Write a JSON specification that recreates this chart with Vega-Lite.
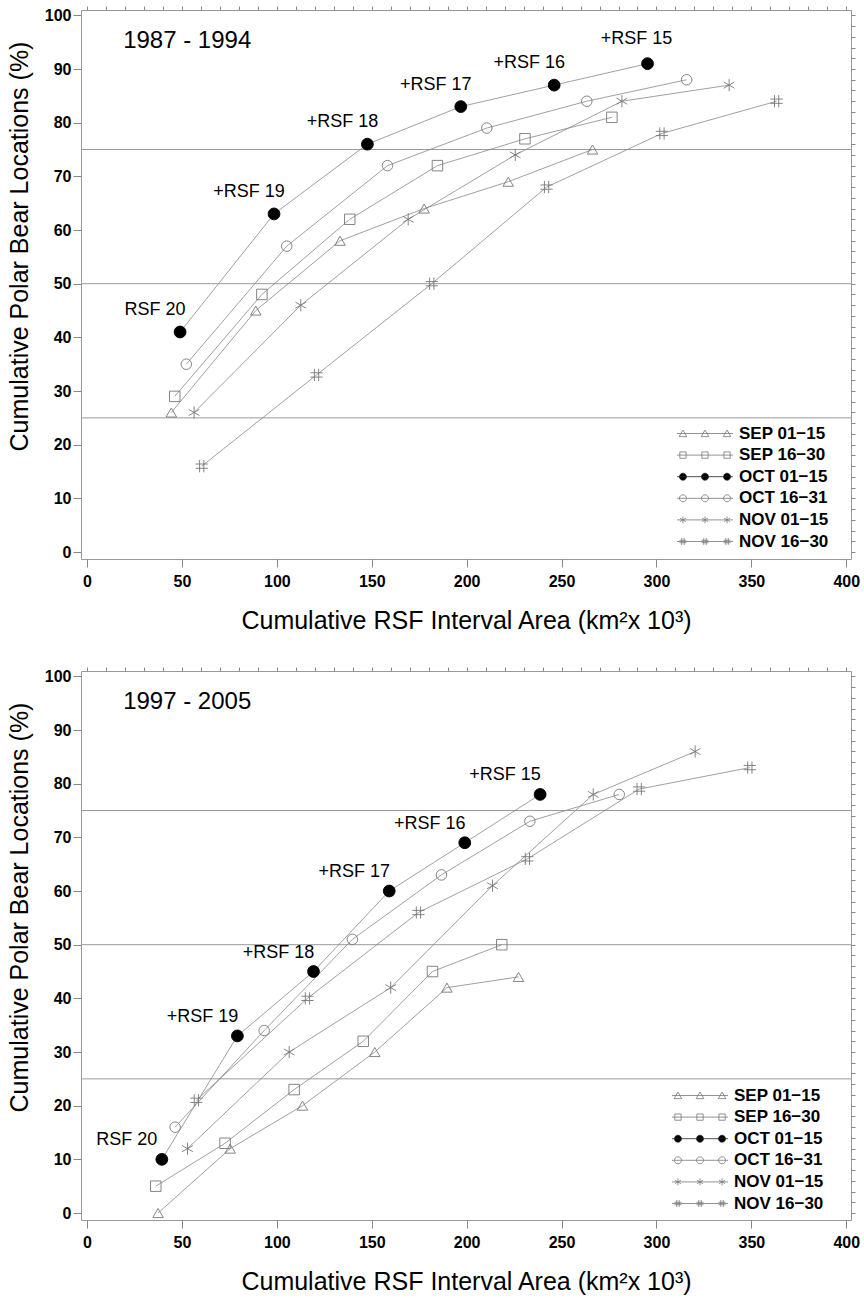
{
  "$schema": "https://vega.github.io/schema/vega-lite/v6.json",
  "padding": {"left": 6, "top": 5, "right": 5, "bottom": 5},
  "spacing": 32,
  "config": {
    "font": "Liberation Sans",
    "view": {"stroke": "#999", "strokeWidth": 1},
    "axis": {"grid": false, "domain": false, "tickColor": "#888", "labelColor": "black", "titleColor": "black", "labelFlush": false},
    "legend": {"title": null, "padding": 0, "labelFontSize": 17, "labelFontWeight": "bold", "labelColor": "black", "symbolSize": 49, "symbolStrokeWidth": 0.8, "symbolOpacity": 1, "labelOffset": 50, "rowPadding": 3.6}
  },
  "datasets": {
    "pts": [
      {"p": "A", "s": "SEP 01−15", "x": 44.4, "y": 26}, {"p": "A", "s": "SEP 01−15", "x": 88.9, "y": 45}, {"p": "A", "s": "SEP 01−15", "x": 133.3, "y": 58}, {"p": "A", "s": "SEP 01−15", "x": 177.6, "y": 64}, {"p": "A", "s": "SEP 01−15", "x": 221.9, "y": 69}, {"p": "A", "s": "SEP 01−15", "x": 266.3, "y": 75},
      {"p": "A", "s": "SEP 16−30", "x": 46.2, "y": 29}, {"p": "A", "s": "SEP 16−30", "x": 92.1, "y": 48}, {"p": "A", "s": "SEP 16−30", "x": 138.4, "y": 62}, {"p": "A", "s": "SEP 16−30", "x": 184.6, "y": 72}, {"p": "A", "s": "SEP 16−30", "x": 230.7, "y": 77}, {"p": "A", "s": "SEP 16−30", "x": 276.5, "y": 81},
      {"p": "A", "s": "OCT 01−15", "x": 49, "y": 41, "label": "RSF 20"}, {"p": "A", "s": "OCT 01−15", "x": 98.5, "y": 63, "label": "+RSF 19"}, {"p": "A", "s": "OCT 01−15", "x": 147.7, "y": 76, "label": "+RSF 18"}, {"p": "A", "s": "OCT 01−15", "x": 196.9, "y": 83, "label": "+RSF 17"}, {"p": "A", "s": "OCT 01−15", "x": 246.1, "y": 87, "label": "+RSF 16"}, {"p": "A", "s": "OCT 01−15", "x": 295.3, "y": 91, "label": "+RSF 15"},
      {"p": "A", "s": "OCT 16−31", "x": 52.3, "y": 35}, {"p": "A", "s": "OCT 16−31", "x": 105.2, "y": 57}, {"p": "A", "s": "OCT 16−31", "x": 158.3, "y": 72}, {"p": "A", "s": "OCT 16−31", "x": 210.6, "y": 79}, {"p": "A", "s": "OCT 16−31", "x": 263.3, "y": 84}, {"p": "A", "s": "OCT 16−31", "x": 315.9, "y": 88},
      {"p": "A", "s": "NOV 01−15", "x": 56.4, "y": 26}, {"p": "A", "s": "NOV 01−15", "x": 112.6, "y": 46}, {"p": "A", "s": "NOV 01−15", "x": 169.2, "y": 62}, {"p": "A", "s": "NOV 01−15", "x": 225.6, "y": 74}, {"p": "A", "s": "NOV 01−15", "x": 281.8, "y": 84}, {"p": "A", "s": "NOV 01−15", "x": 338.3, "y": 87},
      {"p": "A", "s": "NOV 16−30", "x": 60.4, "y": 16}, {"p": "A", "s": "NOV 16−30", "x": 120.9, "y": 33}, {"p": "A", "s": "NOV 16−30", "x": 181.6, "y": 50}, {"p": "A", "s": "NOV 16−30", "x": 242.1, "y": 68}, {"p": "A", "s": "NOV 16−30", "x": 302.9, "y": 78}, {"p": "A", "s": "NOV 16−30", "x": 363.3, "y": 84},
      {"p": "B", "s": "SEP 01−15", "x": 37.4, "y": 0}, {"p": "B", "s": "SEP 01−15", "x": 75.4, "y": 12}, {"p": "B", "s": "SEP 01−15", "x": 113.5, "y": 20}, {"p": "B", "s": "SEP 01−15", "x": 151.6, "y": 30}, {"p": "B", "s": "SEP 01−15", "x": 189.6, "y": 42}, {"p": "B", "s": "SEP 01−15", "x": 227.3, "y": 44},
      {"p": "B", "s": "SEP 16−30", "x": 36.2, "y": 5}, {"p": "B", "s": "SEP 16−30", "x": 72.7, "y": 13}, {"p": "B", "s": "SEP 16−30", "x": 109.1, "y": 23}, {"p": "B", "s": "SEP 16−30", "x": 145.5, "y": 32}, {"p": "B", "s": "SEP 16−30", "x": 182, "y": 45}, {"p": "B", "s": "SEP 16−30", "x": 218.5, "y": 50},
      {"p": "B", "s": "OCT 01−15", "x": 39.4, "y": 10, "label": "RSF 20"}, {"p": "B", "s": "OCT 01−15", "x": 79.2, "y": 33, "label": "+RSF 19"}, {"p": "B", "s": "OCT 01−15", "x": 119.3, "y": 45, "label": "+RSF 18"}, {"p": "B", "s": "OCT 01−15", "x": 159.2, "y": 60, "label": "+RSF 17"}, {"p": "B", "s": "OCT 01−15", "x": 199, "y": 69, "label": "+RSF 16"}, {"p": "B", "s": "OCT 01−15", "x": 238.7, "y": 78, "label": "+RSF 15"},
      {"p": "B", "s": "OCT 16−31", "x": 46.4, "y": 16}, {"p": "B", "s": "OCT 16−31", "x": 93.3, "y": 34}, {"p": "B", "s": "OCT 16−31", "x": 139.8, "y": 51}, {"p": "B", "s": "OCT 16−31", "x": 186.7, "y": 63}, {"p": "B", "s": "OCT 16−31", "x": 233.3, "y": 73}, {"p": "B", "s": "OCT 16−31", "x": 280.4, "y": 78},
      {"p": "B", "s": "NOV 01−15", "x": 52.9, "y": 12}, {"p": "B", "s": "NOV 01−15", "x": 106.5, "y": 30}, {"p": "B", "s": "NOV 01−15", "x": 160, "y": 42}, {"p": "B", "s": "NOV 01−15", "x": 213.6, "y": 61}, {"p": "B", "s": "NOV 01−15", "x": 266.7, "y": 78}, {"p": "B", "s": "NOV 01−15", "x": 320.4, "y": 86},
      {"p": "B", "s": "NOV 16−30", "x": 57.6, "y": 21}, {"p": "B", "s": "NOV 16−30", "x": 116.1, "y": 40}, {"p": "B", "s": "NOV 16−30", "x": 174.6, "y": 56}, {"p": "B", "s": "NOV 16−30", "x": 232, "y": 66}, {"p": "B", "s": "NOV 16−30", "x": 290.9, "y": 79}, {"p": "B", "s": "NOV 16−30", "x": 349.2, "y": 83}
    ],
    "refs": [{"ref": 25}, {"ref": 50}, {"ref": 75}]
  },
  "resolve": {"scale": {"shape": "independent", "fill": "independent", "stroke": "independent"}},
  "vconcat": [
    {
      "width": 770, "height": 549,
      "resolve": {"axis": {"x": "independent", "y": "independent"}, "scale": {"shape": "independent", "fill": "independent", "stroke": "independent"}},
      "layer": [
        {"data": {"name": "refs"}, "mark": {"type": "rule", "color": "#999", "strokeWidth": 1}, "encoding": {"y": {"field": "ref", "type": "quantitative", "axis": null}}},
        {"data": {"name": "pts"}, "transform": [{"filter": "datum.p === 'A'"}],
         "mark": {"type": "line", "color": "#888", "strokeWidth": 0.8},
         "encoding": {
           "x": {"field": "x", "type": "quantitative", "scale": {"domain": [-3.2, 402.5], "nice": false, "zero": false},
                 "axis": {"values": [0, 50, 100, 150, 200, 250, 300, 350, 400], "title": "Cumulative RSF Interval Area (km²x 10³)", "titleFontSize": 25, "titleFontWeight": "normal", "titlePadding": 19, "labelFontSize": 16, "labelFontWeight": "bold", "labelPadding": 6, "tickSize": 8}},
           "y": {"field": "y", "type": "quantitative", "scale": {"domain": [-1.3, 101], "nice": false, "zero": false},
                 "axis": {"values": [0, 10, 20, 30, 40, 50, 60, 70, 80, 90, 100], "title": "Cumulative Polar Bear Locations (%)", "titleFontSize": 25, "titleFontWeight": "normal", "titlePadding": 12, "titleY": 236, "labelFontSize": 16, "labelFontWeight": "bold", "labelPadding": 2, "tickSize": 8}},
           "detail": {"field": "s", "type": "nominal"}
         }},
        {"data": {"name": "pts"}, "transform": [{"filter": "datum.p === 'A'"}],
         "mark": {"type": "point", "opacity": 1, "strokeWidth": 0.9},
         "encoding": {
           "x": {"field": "x", "type": "quantitative", "axis": {"values": [0,10,20,30,40,50,60,70,80,90,100,110,120,130,140,150,160,170,180,190,200,210,220,230,240,250,260,270,280,290,300,310,320,330,340,350,360,370,380,390,400], "labels": false, "tickSize": 4, "title": null}},
           "y": {"field": "y", "type": "quantitative", "axis": {"values": [0,2,4,6,8,10,12,14,16,18,20,22,24,26,28,30,32,34,36,38,40,42,44,46,48,50,52,54,56,58,60,62,64,66,68,70,72,74,76,78,80,82,84,86,88,90,92,94,96,98,100], "labels": false, "tickSize": 4, "title": null}},
           "shape": {"field": "s", "type": "nominal", "legend": null,
             "scale": {"domain": ["SEP 01−15", "SEP 16−30", "OCT 01−15", "OCT 16−31", "NOV 01−15", "NOV 16−30"],
                       "range": ["triangle-up", "square", "circle", "circle", "M0,-1V1M-0.87,-0.5L0.87,0.5M-0.87,0.5L0.87,-0.5", "M-0.35,-1V1M0.35,-1V1M-1,-0.35H1M-1,0.35H1"]}},
           "fill": {"condition": {"test": "datum.s === 'OCT 01−15'", "value": "black"}, "value": "transparent"},
           "stroke": {"condition": {"test": "datum.s === 'OCT 01−15'", "value": "black"}, "value": "#777"},
           "size": {"condition": [{"test": "datum.s === 'OCT 01−15'", "value": 140}, {"test": "indexof(datum.s, 'NOV') === 0", "value": 150}], "value": 110}
         }},
        {"data": {"name": "pts"}, "transform": [{"filter": "datum.p === 'none'"}],
         "mark": {"type": "point", "opacity": 1, "strokeWidth": 0.8, "size": 49},
         "encoding": {
           "x": {"field": "x", "type": "quantitative", "axis": null},
           "y": {"field": "y", "type": "quantitative", "axis": null},
           "shape": {"field": "s", "type": "nominal",
             "scale": {"domain": ["SEP 01−15", "SEP 16−30", "OCT 01−15", "OCT 16−31", "NOV 01−15", "NOV 16−30"],
                       "range": ["M-1,0H15M0.7,-1L1.8,0.9L-0.4,0.9ZM7,-1L8.1,0.9L5.9,0.9ZM13.3,-1L14.4,0.9L12.2,0.9Z", "M-1,0H15M-0.2,-0.9h1.8v1.8h-1.8ZM6.1,-0.9h1.8v1.8h-1.8ZM12.4,-0.9h1.8v1.8h-1.8Z", "M-1,0H15M-0.3,0a1,1 0 1,0 2,0a1,1 0 1,0 -2,0M6,0a1,1 0 1,0 2,0a1,1 0 1,0 -2,0M12.3,0a1,1 0 1,0 2,0a1,1 0 1,0 -2,0", "M-1,0H15M-0.3,0a1,1 0 1,0 2,0a1,1 0 1,0 -2,0M6,0a1,1 0 1,0 2,0a1,1 0 1,0 -2,0M12.3,0a1,1 0 1,0 2,0a1,1 0 1,0 -2,0", "M-1,0H15M0.7,-1v2M-0.17,-0.5l1.74,1M-0.17,0.5l1.74,-1M7,-1v2M6.13,-0.5l1.74,1M6.13,0.5l1.74,-1M13.3,-1v2M12.43,-0.5l1.74,1M12.43,0.5l1.74,-1", "M-1,0H15M0.35,-1v2M1.05,-1v2M-0.3,-0.35h2M-0.3,0.35h2M6.65,-1v2M7.35,-1v2M6,-0.35h2M6,0.35h2M12.95,-1v2M13.65,-1v2M12.3,-0.35h2M12.3,0.35h2"]},
             "legend": {"orient": "none", "legendX": 591, "legendY": 415}},
           "fill": {"field": "s", "type": "nominal",
             "scale": {"domain": ["SEP 01−15", "SEP 16−30", "OCT 01−15", "OCT 16−31", "NOV 01−15", "NOV 16−30"], "range": ["transparent", "transparent", "black", "transparent", "transparent", "transparent"]},
             "legend": {"orient": "none", "legendX": 591, "legendY": 415}},
           "stroke": {"field": "s", "type": "nominal",
             "scale": {"domain": ["SEP 01−15", "SEP 16−30", "OCT 01−15", "OCT 16−31", "NOV 01−15", "NOV 16−30"], "range": ["#777", "#777", "#222", "#777", "#777", "#777"]},
             "legend": {"orient": "none", "legendX": 591, "legendY": 415}}
         }},
        {"data": {"name": "pts"}, "transform": [{"filter": "datum.p === 'A' && datum.label != null && datum.label !== '+RSF 15'"}],
         "mark": {"type": "text", "fontSize": 18, "align": "center", "baseline": "middle", "dx": -25, "dy": -22, "color": "black"},
         "encoding": {"x": {"field": "x", "type": "quantitative", "axis": null}, "y": {"field": "y", "type": "quantitative", "axis": null}, "text": {"field": "label"}}},
        {"data": {"name": "pts"}, "transform": [{"filter": "datum.p === 'A' && datum.label === '+RSF 15'"}],
         "mark": {"type": "text", "fontSize": 18, "align": "center", "baseline": "middle", "dx": -11, "dy": -25, "color": "black"},
         "encoding": {"x": {"field": "x", "type": "quantitative", "axis": null}, "y": {"field": "y", "type": "quantitative", "axis": null}, "text": {"field": "label"}}},
        {"data": {"values": [{"t": "1987 - 1994"}]},
         "mark": {"type": "text", "fontSize": 24, "align": "left", "baseline": "middle", "color": "black"},
         "encoding": {"x": {"datum": 19, "type": "quantitative", "axis": null}, "y": {"datum": 95.3, "type": "quantitative", "axis": null}, "text": {"field": "t"}}}
      ]
    },
    {
      "width": 770, "height": 549,
      "resolve": {"axis": {"x": "independent", "y": "independent"}, "scale": {"shape": "independent", "fill": "independent", "stroke": "independent"}},
      "layer": [
        {"data": {"name": "refs"}, "mark": {"type": "rule", "color": "#999", "strokeWidth": 1}, "encoding": {"y": {"field": "ref", "type": "quantitative", "axis": null}}},
        {"data": {"name": "pts"}, "transform": [{"filter": "datum.p === 'B'"}],
         "mark": {"type": "line", "color": "#888", "strokeWidth": 0.8},
         "encoding": {
           "x": {"field": "x", "type": "quantitative", "scale": {"domain": [-3.2, 402.5], "nice": false, "zero": false},
                 "axis": {"values": [0, 50, 100, 150, 200, 250, 300, 350, 400], "title": "Cumulative RSF Interval Area (km²x 10³)", "titleFontSize": 25, "titleFontWeight": "normal", "titlePadding": 19, "labelFontSize": 16, "labelFontWeight": "bold", "labelPadding": 6, "tickSize": 8}},
           "y": {"field": "y", "type": "quantitative", "scale": {"domain": [-1.3, 101], "nice": false, "zero": false},
                 "axis": {"values": [0, 10, 20, 30, 40, 50, 60, 70, 80, 90, 100], "title": "Cumulative Polar Bear Locations (%)", "titleFontSize": 25, "titleFontWeight": "normal", "titlePadding": 12, "titleY": 236, "labelFontSize": 16, "labelFontWeight": "bold", "labelPadding": 2, "tickSize": 8}},
           "detail": {"field": "s", "type": "nominal"}
         }},
        {"data": {"name": "pts"}, "transform": [{"filter": "datum.p === 'B'"}],
         "mark": {"type": "point", "opacity": 1, "strokeWidth": 0.9},
         "encoding": {
           "x": {"field": "x", "type": "quantitative", "axis": {"values": [0,10,20,30,40,50,60,70,80,90,100,110,120,130,140,150,160,170,180,190,200,210,220,230,240,250,260,270,280,290,300,310,320,330,340,350,360,370,380,390,400], "labels": false, "tickSize": 4, "title": null}},
           "y": {"field": "y", "type": "quantitative", "axis": {"values": [0,2,4,6,8,10,12,14,16,18,20,22,24,26,28,30,32,34,36,38,40,42,44,46,48,50,52,54,56,58,60,62,64,66,68,70,72,74,76,78,80,82,84,86,88,90,92,94,96,98,100], "labels": false, "tickSize": 4, "title": null}},
           "shape": {"field": "s", "type": "nominal", "legend": null,
             "scale": {"domain": ["SEP 01−15", "SEP 16−30", "OCT 01−15", "OCT 16−31", "NOV 01−15", "NOV 16−30"],
                       "range": ["triangle-up", "square", "circle", "circle", "M0,-1V1M-0.87,-0.5L0.87,0.5M-0.87,0.5L0.87,-0.5", "M-0.35,-1V1M0.35,-1V1M-1,-0.35H1M-1,0.35H1"]}},
           "fill": {"condition": {"test": "datum.s === 'OCT 01−15'", "value": "black"}, "value": "transparent"},
           "stroke": {"condition": {"test": "datum.s === 'OCT 01−15'", "value": "black"}, "value": "#777"},
           "size": {"condition": [{"test": "datum.s === 'OCT 01−15'", "value": 140}, {"test": "indexof(datum.s, 'NOV') === 0", "value": 150}], "value": 110}
         }},
        {"data": {"name": "pts"}, "transform": [{"filter": "datum.p === 'none'"}],
         "mark": {"type": "point", "opacity": 1, "strokeWidth": 0.8, "size": 49},
         "encoding": {
           "x": {"field": "x", "type": "quantitative", "axis": null},
           "y": {"field": "y", "type": "quantitative", "axis": null},
           "shape": {"field": "s", "type": "nominal",
             "scale": {"domain": ["SEP 01−15", "SEP 16−30", "OCT 01−15", "OCT 16−31", "NOV 01−15", "NOV 16−30"],
                       "range": ["M-1,0H15M0.7,-1L1.8,0.9L-0.4,0.9ZM7,-1L8.1,0.9L5.9,0.9ZM13.3,-1L14.4,0.9L12.2,0.9Z", "M-1,0H15M-0.2,-0.9h1.8v1.8h-1.8ZM6.1,-0.9h1.8v1.8h-1.8ZM12.4,-0.9h1.8v1.8h-1.8Z", "M-1,0H15M-0.3,0a1,1 0 1,0 2,0a1,1 0 1,0 -2,0M6,0a1,1 0 1,0 2,0a1,1 0 1,0 -2,0M12.3,0a1,1 0 1,0 2,0a1,1 0 1,0 -2,0", "M-1,0H15M-0.3,0a1,1 0 1,0 2,0a1,1 0 1,0 -2,0M6,0a1,1 0 1,0 2,0a1,1 0 1,0 -2,0M12.3,0a1,1 0 1,0 2,0a1,1 0 1,0 -2,0", "M-1,0H15M0.7,-1v2M-0.17,-0.5l1.74,1M-0.17,0.5l1.74,-1M7,-1v2M6.13,-0.5l1.74,1M6.13,0.5l1.74,-1M13.3,-1v2M12.43,-0.5l1.74,1M12.43,0.5l1.74,-1", "M-1,0H15M0.35,-1v2M1.05,-1v2M-0.3,-0.35h2M-0.3,0.35h2M6.65,-1v2M7.35,-1v2M6,-0.35h2M6,0.35h2M12.95,-1v2M13.65,-1v2M12.3,-0.35h2M12.3,0.35h2"]},
             "legend": {"orient": "none", "legendX": 586, "legendY": 416}},
           "fill": {"field": "s", "type": "nominal",
             "scale": {"domain": ["SEP 01−15", "SEP 16−30", "OCT 01−15", "OCT 16−31", "NOV 01−15", "NOV 16−30"], "range": ["transparent", "transparent", "black", "transparent", "transparent", "transparent"]},
             "legend": {"orient": "none", "legendX": 586, "legendY": 416}},
           "stroke": {"field": "s", "type": "nominal",
             "scale": {"domain": ["SEP 01−15", "SEP 16−30", "OCT 01−15", "OCT 16−31", "NOV 01−15", "NOV 16−30"], "range": ["#777", "#777", "#222", "#777", "#777", "#777"]},
             "legend": {"orient": "none", "legendX": 586, "legendY": 416}}
         }},
        {"data": {"name": "pts"}, "transform": [{"filter": "datum.p === 'B' && datum.label != null"}],
         "mark": {"type": "text", "fontSize": 18, "align": "center", "baseline": "middle", "dx": -35, "dy": -19, "color": "black"},
         "encoding": {"x": {"field": "x", "type": "quantitative", "axis": null}, "y": {"field": "y", "type": "quantitative", "axis": null}, "text": {"field": "label"}}},
        {"data": {"values": [{"t": "1997 - 2005"}]},
         "mark": {"type": "text", "fontSize": 24, "align": "left", "baseline": "middle", "color": "black"},
         "encoding": {"x": {"datum": 19, "type": "quantitative", "axis": null}, "y": {"datum": 95.2, "type": "quantitative", "axis": null}, "text": {"field": "t"}}}
      ]
    }
  ]
}
